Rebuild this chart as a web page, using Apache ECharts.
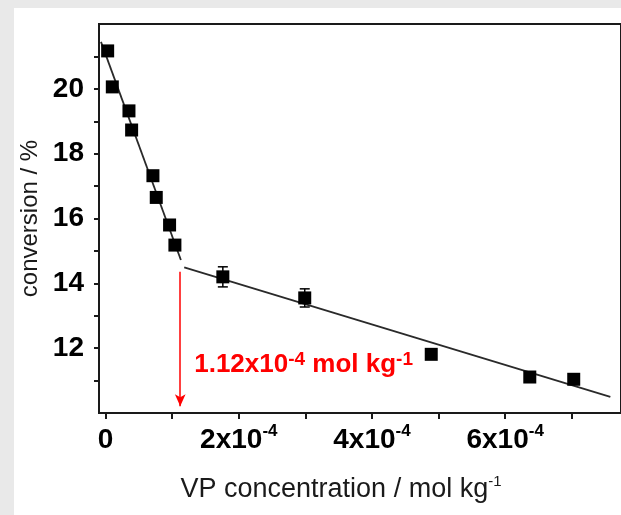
<!DOCTYPE html>
<html>
<head>
<meta charset="utf-8">
<script src="https://cdn.jsdelivr.net/npm/echarts@6/dist/echarts.min.js"></script>
<style>
html,body{margin:0;padding:0;background:#e9e9e9;}
#c{width:621px;height:515px;}
</style>
</head>
<body>
<div id="c"></div>
<script>
// VP concentration in units of 1e-4 mol/kg
const vpConc = [0.03, 0.10, 0.35, 0.39, 0.71, 0.76, 0.96, 1.04, 1.76, 2.99, 4.89, 6.37, 7.03];
const conversion = [21.17, 20.06, 19.32, 18.73, 17.32, 16.65, 15.80, 15.18, 14.20, 13.55, 11.81, 11.11, 11.04];
const errorBars = [0, 0, 0, 0, 0, 0, 0, 0, 0.31, 0.28, 0, 0, 0];
const fit1X = [-0.07, 1.13];
const fit1Y = [21.45, 14.72];
const fit2X = [1.18, 7.58];
const fit2Y = [14.49, 10.50];
const breakX = 1.12;
const arrowY = [14.36, 10.21];
const annotPos = [1.33, 11.48];
const xTickValues = [0, 1, 2, 3, 4, 5, 6, 7];
const xLabelValues = [0, 2, 4, 6];
const yTickValues = [11, 12, 13, 14, 15, 16, 17, 18, 19, 20, 21];
const yLabelValues = [12, 14, 16, 18, 20];

const FF = 'Liberation Sans, Arial, sans-serif';
const chart = echarts.init(document.getElementById('c'), null, {renderer: 'canvas'});

const option = {
  backgroundColor: '#e9e9e9',
  animation: false,
  graphic: [{
    type: 'rect', z: -100, silent: true,
    shape: {x: 14, y: 8, width: 607, height: 507},
    style: {fill: '#ffffff'}
  }],
  grid: {
    left: 99, right: -3, top: 24, bottom: 102,
    show: true, borderColor: '#1a1a1a', borderWidth: 2, backgroundColor: 'transparent'
  },
  xAxis: {
    type: 'value', min: -0.1, max: 7.74,
    splitLine: {show: false},
    axisLine: {show: true, onZero: false, lineStyle: {color: '#1a1a1a', width: 2}},
    axisTick: {show: true, inside: false, length: 6, customValues: xTickValues, lineStyle: {color: '#1a1a1a', width: 2}},
    axisLabel: {
      customValues: xLabelValues, margin: 10, fontFamily: FF,
      formatter: v => v === 0 ? '{n|0}' : '{n|' + v + 'x10}{s|-4}',
      rich: {
        n: {fontSize: 28, fontWeight: 'bold', color: '#000', lineHeight: 34, fontFamily: FF},
        s: {fontSize: 17, fontWeight: 'bold', color: '#000', lineHeight: 27, verticalAlign: 'top', fontFamily: FF}
      }
    },
    name: '{n|VP concentration / mol kg}{s|-1}',
    nameLocation: 'middle', nameGap: 61,
    nameTextStyle: {
      padding: [0, 38, 0, 0],
      rich: {
        n: {fontSize: 27, color: '#1a1a1a', lineHeight: 32, fontFamily: FF},
        s: {fontSize: 15, color: '#1a1a1a', lineHeight: 10, verticalAlign: 'top', fontFamily: FF}
      }
    }
  },
  yAxis: {
    type: 'value', min: 10, max: 22,
    splitLine: {show: false},
    axisLine: {show: true, onZero: false, lineStyle: {color: '#1a1a1a', width: 2}},
    axisTick: {show: true, inside: false, length: 5, customValues: yTickValues, lineStyle: {color: '#1a1a1a', width: 2}},
    axisLabel: {
      customValues: yLabelValues, margin: 15, fontSize: 28, fontWeight: 'bold', color: '#000', fontFamily: FF
    },
    name: 'conversion / %',
    nameLocation: 'middle', nameGap: 57,
    nameTextStyle: {fontSize: 24, color: '#1a1a1a', fontFamily: FF}
  },
  series: [
    {
      type: 'line', data: fit1X.map((x, i) => [x, fit1Y[i]]), showSymbol: false, silent: true,
      lineStyle: {color: '#2a2a2a', width: 1.8}, z: 2
    },
    {
      type: 'line', data: fit2X.map((x, i) => [x, fit2Y[i]]), showSymbol: false, silent: true,
      lineStyle: {color: '#2a2a2a', width: 1.8}, z: 2,
      markLine: {
        silent: true, symbol: ['none', 'arrow'], symbolSize: [8, 12],
        label: {show: false},
        lineStyle: {color: '#ff0000', width: 1.5, type: 'solid', opacity: 1},
        data: [[{coord: [breakX, arrowY[0]]}, {coord: [breakX, arrowY[1]]}]]
      }
    },
    {
      type: 'scatter', data: vpConc.map((x, i) => [x, conversion[i]]),
      symbol: 'rect', symbolSize: 13, itemStyle: {color: '#000', opacity: 1}, z: 3
    },
    {
      type: 'custom', z: 4, silent: true,
      data: vpConc.map((x, i) => [x, conversion[i], errorBars[i]]),
      renderItem: function (params, api) {
        const x = api.value(0), y = api.value(1), e = api.value(2);
        if (!e) return null;
        const top = api.coord([x, y + e]);
        const bot = api.coord([x, y - e]);
        const st = {stroke: '#000', lineWidth: 1.5};
        return {
          type: 'group',
          children: [
            {type: 'line', shape: {x1: top[0], y1: top[1], x2: bot[0], y2: bot[1]}, style: st},
            {type: 'line', shape: {x1: top[0] - 5, y1: top[1], x2: top[0] + 5, y2: top[1]}, style: st},
            {type: 'line', shape: {x1: bot[0] - 5, y1: bot[1], x2: bot[0] + 5, y2: bot[1]}, style: st}
          ]
        };
      }
    },
    {
      type: 'scatter', data: [annotPos], symbolSize: 0, silent: true, z: 5,
      itemStyle: {opacity: 1},
      label: {
        show: true, position: 'right', distance: 0, opacity: 1,
        formatter: '{n|1.12x10}{s|-4}{n| mol kg}{s|-1}',
        rich: {
          n: {fontSize: 26, fontWeight: 'bold', color: '#ff0000', lineHeight: 30, fontFamily: FF},
          s: {fontSize: 19, fontWeight: 'bold', color: '#ff0000', lineHeight: 17, verticalAlign: 'top', fontFamily: FF}
        }
      }
    }
  ]
};
chart.setOption(option);
</script>
</body>
</html>
